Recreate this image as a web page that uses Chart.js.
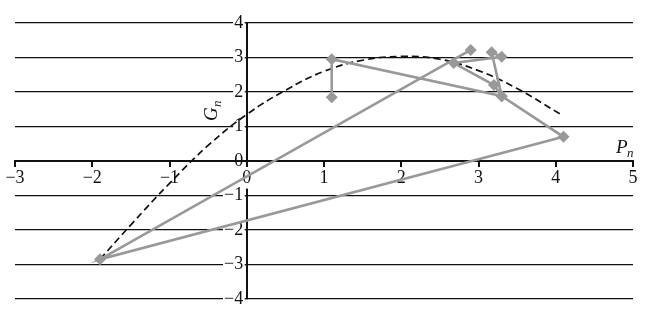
<!DOCTYPE html>
<html>
<head>
<meta charset="utf-8">
<script src="https://cdn.jsdelivr.net/npm/chart.js@4/dist/chart.umd.min.js"></script>
<style>
  html, body { margin: 0; padding: 0; background: #fff; }
  #wrap { width: 656px; height: 327px; }
</style>
</head>
<body>
<div id="wrap"><canvas id="c" width="656" height="327"></canvas></div>
<script>
// ---------- Data ----------
// trajectory (P_n, G_n), in drawing order
const pathP = [1.1, 1.1, 3.3, 3.17, 3.3, 2.68, 3.2, 3.3, 4.1, -1.9, 2.9];
const pathG = [1.85, 2.95, 1.88, 3.15, 3.02, 2.84, 2.2, 1.88, 0.7, -2.85, 3.22];

// dashed trend curve
const trendP = [-1.9, -1.5, -1, -0.5, 0, 0.5, 1, 1.5, 2, 2.5, 3, 3.5, 4.08];
const trendG = [-2.85, -1.85, -0.65, 0.45, 1.35, 2.05, 2.6, 2.92, 3.03, 2.95, 2.62, 2.1, 1.33];

const xTicks = [-3, -2, -1, 0, 1, 2, 3, 4, 5];
const yTicks = [-4, -3, -2, -1, 0, 1, 2, 3, 4];

const FONT = 'Liberation Serif, DejaVu Serif, serif';
const INK = '#111';
const GREY = '#999';

const toXY = (xs, ys) => xs.map((x, i) => ({ x, y: ys[i] }));
const minus = v => String(v).replace('-', '\u2212');

// ---------- Axis titles (G_n, P_n) ----------
const axisTitles = {
  id: 'axisTitles',
  afterDraw(chart) {
    const { ctx, scales: { x, y } } = chart;
    ctx.save();
    ctx.fillStyle = INK;
    ctx.textBaseline = 'alphabetic';

    // P_n, just above the right end of the x axis
    let px = x.getPixelForValue(5) - 17, py = y.getPixelForValue(0) - 8;
    ctx.textAlign = 'left';
    ctx.font = 'italic 19px ' + FONT;
    ctx.fillText('P', px, py);
    ctx.font = 'italic 13px ' + FONT;
    ctx.fillText('n', px + 11, py + 4);

    // G_n, rotated, left of the y axis
    ctx.translate(x.getPixelForValue(0) - 30, y.getPixelForValue(1.42));
    ctx.rotate(-Math.PI / 2);
    ctx.font = 'italic 19px ' + FONT;
    ctx.fillText('G', -9, 0);
    ctx.font = 'italic 13px ' + FONT;
    ctx.fillText('n', 5, 4);
    ctx.restore();
  }
};

// ---------- Chart ----------
new Chart(document.getElementById('c'), {
  type: 'scatter',
  data: {
    datasets: [
      {
        label: 'path',
        data: toXY(pathP, pathG),
        showLine: true,
        borderColor: GREY,
        borderWidth: 2.6,
        backgroundColor: GREY,
        pointStyle: 'rectRot',
        pointRadius: 6,
        pointBorderWidth: 0,
        tension: 0,
      },
      {
        label: 'trend',
        data: toXY(trendP, trendG),
        showLine: true,
        borderColor: INK,
        borderWidth: 1.7,
        borderDash: [7, 4],
        pointRadius: 0,
        tension: 0.4,
      },
    ],
  },
  options: {
    responsive: false,
    animation: false,
    devicePixelRatio: 1,
    layout: { padding: { left: 15, right: 23, top: 23, bottom: 28 } },
    plugins: { legend: { display: false }, tooltip: { enabled: false } },
    scales: {
      y: {
        type: 'linear',
        position: { x: 0 },
        min: -4, max: 4,
        afterBuildTicks: s => { s.ticks = yTicks.map(value => ({ value })); },
        grid: { color: INK, lineWidth: 1.3, tickLength: 4, drawTicks: true },
        border: { display: true, color: INK, width: 2 },
        ticks: {
          color: INK,
          font: { family: FONT, size: 18 },
          // labels sit right-aligned on the axis itself; a thin space keeps them off it
          callback: v => minus(v) + '\u2009',
          showLabelBackdrop: true,
          backdropColor: '#fff',
          backdropPadding: { left: 1, right: -2, top: 0, bottom: 0 },
        },
      },
      x: {
        type: 'linear',
        position: { y: 0 },
        min: -3, max: 5,
        afterBuildTicks: s => { s.ticks = xTicks.map(value => ({ value })); },
        grid: { drawOnChartArea: false, drawTicks: true, tickLength: 6, color: INK, lineWidth: 2 },
        border: { display: true, color: INK, width: 2 },
        ticks: {
          color: INK,
          font: { family: FONT, size: 18 },
          padding: 0,
          maxRotation: 0,
          autoSkip: false,
          callback: minus,
          showLabelBackdrop: true,
          backdropColor: '#fff',
          backdropPadding: { left: 1, right: 1, top: 0, bottom: 0 },
        },
      },
    },
  },
  plugins: [axisTitles],
});
</script>
</body>
</html>
